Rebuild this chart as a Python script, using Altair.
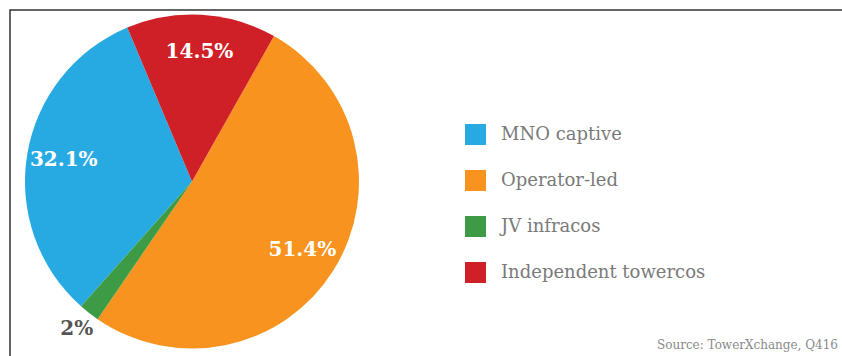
import math
import altair as alt
import pandas as pd

categories = ["MNO captive", "Operator-led", "JV infracos", "Independent towercos"]
values = [32.1, 51.4, 2.0, 14.5]
labels = ["32.1%", "51.4%", "2%", "14.5%"]
pie_order = [4, 2, 3, 1]  # clockwise drawing order starting at the red slice
colors = ["#27aae1", "#f7931e", "#3d9b45", "#cf1f27"]

df = pd.DataFrame({"cat": categories, "value": values, "label": labels, "ord": pie_order})

start = -0.398
theta_scale = alt.Scale(domain=[0, 100], range=[start, start + 2 * math.pi])
cx, cy, R = 192, 181.5, 167

base = alt.Chart(df).transform_stack(
    stack="value", as_=["v0", "v1"], groupby=[], sort=[alt.SortField("ord", order="ascending")]
).transform_calculate(mid="(datum.v0 + datum.v1) / 2")

pie = base.mark_arc(outerRadius=R, stroke=None).encode(
    theta=alt.Theta("v0:Q", scale=theta_scale),
    theta2="v1:Q",
    x=alt.value(cx),
    y=alt.value(cy),
    color=alt.Color(
        "cat:N",
        sort=categories,
        scale=alt.Scale(domain=categories, range=colors),
        legend=alt.Legend(
            title=None,
            orient="none",
            legendX=465,
            legendY=124,
            symbolType="square",
            symbolSize=441,
            symbolStrokeWidth=0,
            symbolOpacity=1,
            labelFont="DejaVu Serif",
            labelFontSize=18,
            labelColor="#7a7a7a",
            labelOffset=15,
            labelLimit=400,
            rowPadding=25,
        ),
    ),
)

inner = base.transform_filter(alt.datum.value > 5).mark_text(
    radius=130, font="DejaVu Serif", fontSize=20, fontWeight="bold", color="white"
).encode(
    theta=alt.Theta("mid:Q", scale=theta_scale),
    x=alt.value(cx), y=alt.value(cy), text="label:N",
)

outer = base.transform_filter(alt.datum.value <= 5).mark_text(
    radius=187, font="DejaVu Serif", fontSize=20, fontWeight="bold", color="#555555"
).encode(
    theta=alt.Theta("mid:Q", scale=theta_scale),
    x=alt.value(cx), y=alt.value(cy), text="label:N",
)

frame_df = pd.DataFrame({"k": [0]})
frame = alt.Chart(frame_df).mark_rect(fill=None, stroke="#333333", strokeWidth=1.5).encode(
    x=alt.value(10), y=alt.value(10), x2=alt.value(900), y2=alt.value(400)
)

source = alt.Chart(frame_df).mark_text(
    text="Source: TowerXchange, Q416", font="DejaVu Serif", fontSize=12,
    color="#8a8a8a", align="right", baseline="middle"
).encode(x=alt.value(838), y=alt.value(345))

chart = alt.layer(frame, pie, inner, outer, source).properties(
    width=842, height=356, autosize=alt.AutoSizeParams(type="none"), padding=0,
    background="white",
).configure_view(stroke=None)

chart.save("out.html", embed_options={"renderer": "svg", "actions": False})
